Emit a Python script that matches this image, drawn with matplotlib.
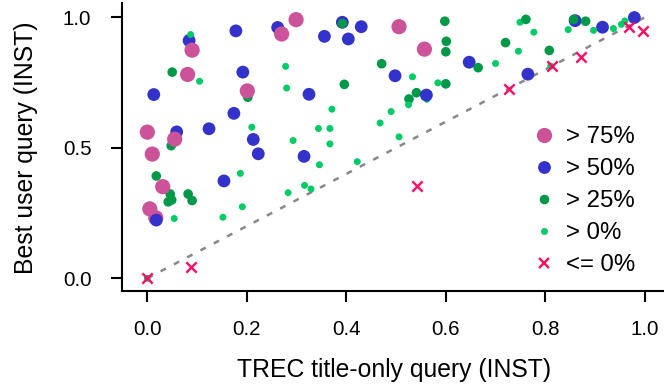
import matplotlib
matplotlib.use("Agg")
import matplotlib.pyplot as plt
from matplotlib.lines import Line2D

plt.rcParams['font.family'] = ['Liberation Sans', 'DejaVu Sans']

# ---- data (TREC title-only INST vs best user query INST), in drawing order ----
groups = ["> 75%", "> 50%", "> 25%", "> 0%"]

blue_x = [0.084, 0.178, 0.262, 0.192, 0.013, 0.325, 0.174, 0.124, 0.059, 0.213,
          0.223, 0.315, 0.154, 0.392, 0.430, 0.356, 0.404, 0.647, 0.498,
          0.765, 0.860, 0.915]
blue_y = [0.911, 0.948, 0.961, 0.790, 0.704, 0.705, 0.632, 0.573, 0.561, 0.532,
          0.477, 0.467, 0.373, 0.981, 0.964, 0.927, 0.917, 0.828, 0.776,
          0.782, 0.987, 0.962]

dkgreen_x = [0.050, 0.202, 0.048, 0.018, 0.046, 0.049, 0.042, 0.082, 0.090, 0.392,
             0.598, 0.601, 0.600, 0.471, 0.665, 0.396, 0.541, 0.526,
             0.720, 0.808, 0.857, 0.881]
dkgreen_y = [0.790, 0.694, 0.508, 0.392, 0.323, 0.300, 0.293, 0.323, 0.298, 0.976,
             0.985, 0.908, 0.868, 0.822, 0.807, 0.743, 0.711, 0.687,
             0.903, 0.873, 0.992, 0.985]

pink_x = [0.090, 0.081, 0.270, 0.299, 0.201, 0.000, 0.055, 0.010, 0.031, 0.005,
          0.017, 0.506, 0.557]
pink_y = [0.874, 0.781, 0.936, 0.991, 0.718, 0.560, 0.533, 0.476, 0.351, 0.266,
          0.232, 0.964, 0.878]

ltgreen_x = [0.087, 0.105, 0.278, 0.280, 0.210, 0.293, 0.054, 0.187, 0.191, 0.152,
             0.283, 0.316, 0.329, 0.346, 0.422, 0.367, 0.344, 0.367, 0.371, 0.468,
             0.490, 0.506, 0.525, 0.562, 0.533, 0.584, 0.749, 0.777, 0.746, 0.700,
             0.811, 0.846, 0.897, 0.937, 0.953, 0.960, 0.000]
ltgreen_y = [0.934, 0.755, 0.812, 0.729, 0.579, 0.528, 0.229, 0.402, 0.274, 0.234,
             0.328, 0.356, 0.342, 0.435, 0.447, 0.515, 0.574, 0.574, 0.648, 0.595,
             0.639, 0.542, 0.665, 0.686, 0.772, 0.749, 0.981, 0.943, 0.870, 0.823,
             0.813, 0.953, 0.950, 0.957, 0.973, 0.986, 0.000]

# points drawn on top of their neighbours
blue_top_x = [0.018, 0.561, 0.979]
blue_top_y = [0.223, 0.702, 0.999]
dkgreen_top_x = [0.761, 0.600]
dkgreen_top_y = [0.992, 0.745]

fail_x = [0.000, 0.088, 0.542, 0.727, 0.814, 0.871, 0.968, 0.997]
fail_y = [0.000, 0.042, 0.355, 0.725, 0.814, 0.848, 0.963, 0.947]

diag = [0.0, 1.0]
xticks = [0.0, 0.2, 0.4, 0.6, 0.8, 1.0]
yticks = [0.0, 0.5, 1.0]

c_pink = "#CC5299"
c_blue = "#3333CC"
c_dk = "#009948"
c_lt = "#00CC66"
c_x = "#FF0A66"
s_pink, s_blue, s_dk, s_lt, s_x = 120, 85, 48, 25, 55

W, H = 664, 385
fig = plt.figure(figsize=(W / 100, H / 100), dpi=100)
L, R, T, B = 122, 664, 3, 291
ax = fig.add_axes([L / W, 1 - B / H, (R - L) / W, (B - T) / H])

ax.plot(diag, diag, color="#888888", lw=1.8, linestyle=(0, (2.4, 3.6)), zorder=1)

ax.scatter(blue_x, blue_y, s=s_blue, color=c_blue, edgecolors="none", zorder=2)
ax.scatter(dkgreen_x, dkgreen_y, s=s_dk, color=c_dk, edgecolors="none", zorder=2)
ax.scatter(pink_x, pink_y, s=s_pink, color=c_pink, edgecolors="none", zorder=2)
ax.scatter(ltgreen_x, ltgreen_y, s=s_lt, color=c_lt, edgecolors="none", zorder=2)
ax.scatter(blue_top_x, blue_top_y, s=s_blue, color=c_blue, edgecolors="none", zorder=3)
ax.scatter(dkgreen_top_x, dkgreen_top_y, s=s_dk, color=c_dk, edgecolors="none", zorder=3)
ax.scatter(fail_x, fail_y, s=s_x, marker="x", color=c_x, linewidths=1.7, zorder=4)

x0, x1 = -0.0509, 1.0386
y0, y1 = -0.0487, 1.0548
ax.set_xlim(x0, x1)
ax.set_ylim(y0, y1)
ax.set_xticks(xticks)
ax.set_yticks(yticks)
ax.set_xticklabels([f"{v:.1f}" for v in xticks])
ax.set_yticklabels([f"{v:.1f}" for v in yticks])
for side in ["top", "right"]:
    ax.spines[side].set_visible(False)
for side in ["left", "bottom"]:
    ax.spines[side].set_linewidth(1.5)
ax.tick_params(axis="both", direction="out", length=8, width=1.5, labelsize=14.8)
ax.tick_params(axis="x", pad=13)
ax.tick_params(axis="y", pad=14)

fig.text(394 / W, 1 - 370 / H, "TREC title-only query (INST)", ha="center", va="center",
         fontsize=17.8)
fig.text(26 / W, 1 - 148 / H, "Best user query (INST)", ha="center", va="center",
         rotation=90, fontsize=17.8)

handles = [
    Line2D([], [], marker="o", linestyle="none", color=c_pink, markersize=s_pink ** 0.5, markeredgewidth=0),
    Line2D([], [], marker="o", linestyle="none", color=c_blue, markersize=s_blue ** 0.5, markeredgewidth=0),
    Line2D([], [], marker="o", linestyle="none", color=c_dk, markersize=s_dk ** 0.5, markeredgewidth=0),
    Line2D([], [], marker="o", linestyle="none", color=c_lt, markersize=s_lt ** 0.5, markeredgewidth=0),
    Line2D([], [], marker="x", linestyle="none", color=c_x, markersize=s_x ** 0.5, markeredgewidth=1.7),
]
labels = groups + ["<= 0%"]
leg = ax.legend(handles, labels, loc="upper left", bbox_to_anchor=(533 / W, 1 - 126 / H),
                bbox_transform=fig.transFigure, frameon=False, fontsize=17.3,
                handlelength=0.95, handletextpad=0.42, labelspacing=0.42,
                borderpad=0, borderaxespad=0)

fig.savefig("out.png", dpi=100)
